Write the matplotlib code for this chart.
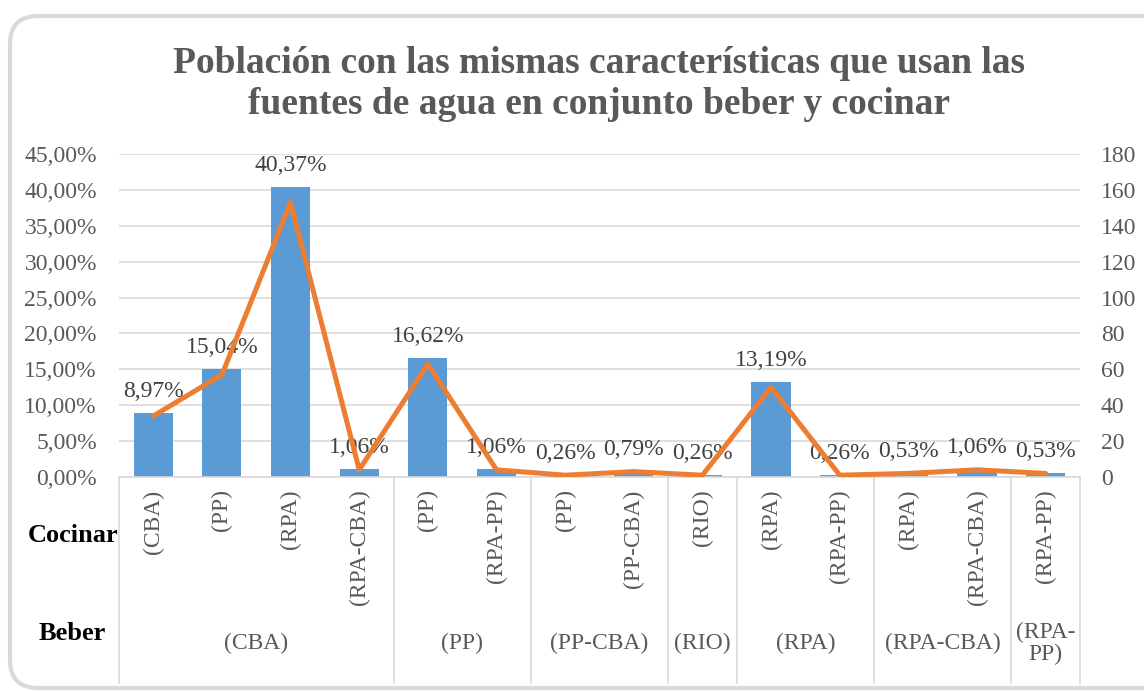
import matplotlib.pyplot as plt
import matplotlib.transforms as mtransforms
from matplotlib.patches import FancyBboxPatch

plt.rcParams['font.family'] = ['Liberation Serif', 'DejaVu Serif']

# data
cocinar = ["(CBA)", "(PP)", "(RPA)", "(RPA-CBA)", "(PP)", "(RPA-PP)", "(PP)",
           "(PP-CBA)", "(RIO)", "(RPA)", "(RPA-PP)", "(RPA)", "(RPA-CBA)", "(RPA-PP)"]
beber_groups = ["(CBA)", "(PP)", "(PP-CBA)", "(RIO)", "(RPA)", "(RPA-CBA)", "(RPA-\nPP)"]
group_sizes = [4, 2, 2, 1, 2, 2, 1]
porcentaje = [8.97, 15.04, 40.37, 1.06, 16.62, 1.06, 0.26, 0.79, 0.26, 13.19, 0.26, 0.53, 1.06, 0.53]
personas = [34, 57, 153, 4, 63, 4, 1, 3, 1, 50, 1, 2, 4, 2]

gray = "#595959"
grid = "#D9D9D9"

fig = plt.figure(figsize=(11.44, 6.91), dpi=100)

# rounded frame around the chart (inches)
frame = FancyBboxPatch((0.10, 0.03), 11.6, 6.72, boxstyle="round,pad=0,rounding_size=0.28",
                       transform=fig.dpi_scale_trans, facecolor="white", edgecolor="#D9D9D9",
                       linewidth=3, zorder=-10)
fig.patches.append(frame)

ax = fig.add_axes([0.104, 0.3097, 0.840, 0.4674])
x = list(range(len(cocinar)))
ax.bar(x, porcentaje, width=0.57, color="#5B9BD5", zorder=2)
ax.set_xlim(-0.5, len(cocinar) - 0.5)
ax.set_ylim(0, 45)
ax.set_yticks(range(0, 46, 5))
ax.set_yticklabels([f"{v:.2f}%".replace(".", ",") for v in range(0, 46, 5)])
ax.grid(axis="y", color=grid, linewidth=1.2, zorder=0)
ax.set_axisbelow(True)
for s in ax.spines.values():
    s.set_visible(False)
ax.tick_params(axis="y", length=0, pad=16, labelsize=17, labelcolor=gray)
ax.set_xticks(x)
ax.set_xticklabels(cocinar, rotation=90, va="top")
ax.tick_params(axis="x", length=0, pad=9, labelsize=17, labelcolor=gray)

for xi, v in zip(x, porcentaje):
    ax.annotate(f"{v:.2f}%".replace(".", ","), (xi, v), xytext=(0, 8),
                textcoords="offset points", ha="center", va="bottom",
                fontsize=17, color="#404040", zorder=5)

ax2 = ax.twinx()
ax2.plot(x, personas, color="#ED7D31", linewidth=3.6, solid_joinstyle="round",
         solid_capstyle="round", zorder=3)
ax2.set_ylim(0, 180)
ax2.set_yticks(range(0, 181, 20))
for s in ax2.spines.values():
    s.set_visible(False)
ax2.tick_params(axis="y", length=0, pad=15, labelsize=17, labelcolor=gray)

# two-level category axis
trans = mtransforms.blended_transform_factory(ax.transData, ax.transAxes)
bottom = -0.638
bounds = [-0.5]
for n in group_sizes:
    bounds.append(bounds[-1] + n)
for b in bounds:
    ax.plot([b, b], [0, bottom], transform=trans, color=grid, linewidth=1.2, clip_on=False)
ax.plot([-0.5, len(cocinar) - 0.5], [0, 0], transform=trans, color=grid, linewidth=1.2, clip_on=False)
for i, g in enumerate(beber_groups):
    cx = (bounds[i] + bounds[i + 1]) / 2
    ax.text(cx, -0.514, g, transform=trans, ha="center", va="center",
            fontsize=17, color=gray, linespacing=1.05)

fig.text(73 / 1144, 1 - 535 / 691, "Cocinar", ha="center", va="center", fontsize=19, fontweight="bold")
fig.text(72 / 1144, 1 - 633 / 691, "Beber", ha="center", va="center", fontsize=19, fontweight="bold")

fig.text(0.524, 1 - 84 / 691, "Población con las mismas características que usan las\n"
         "fuentes de agua en conjunto beber y cocinar", ha="center", va="center",
         fontsize=27, fontweight="bold", color=gray, linespacing=1.25)

fig.savefig("out.png", dpi=100)
